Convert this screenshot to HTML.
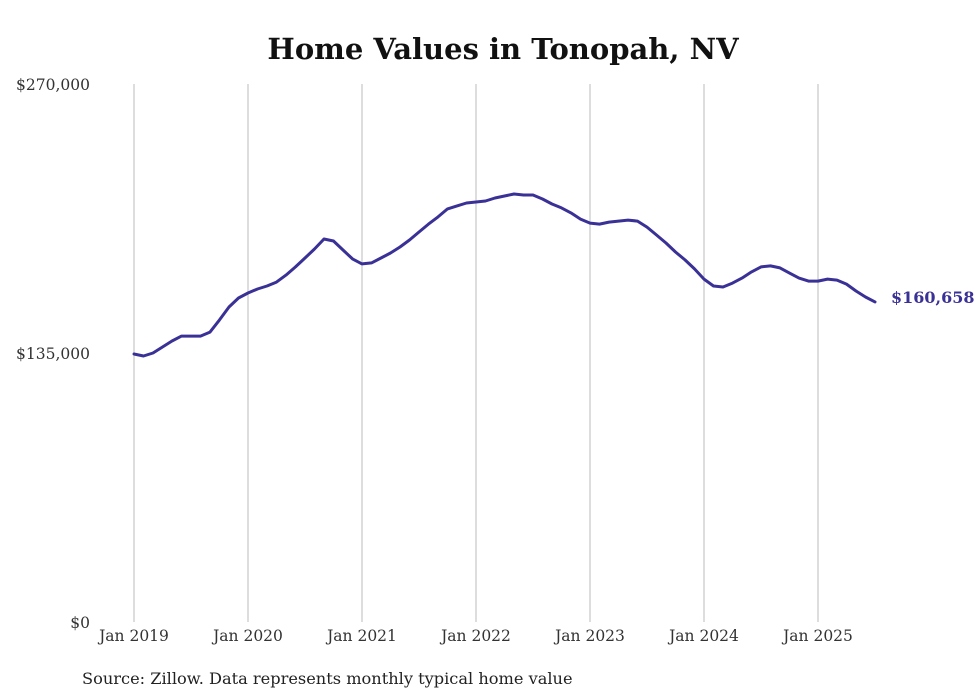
<!DOCTYPE html>
<html><head><meta charset="utf-8"><style>
body{margin:0;background:#fff;}
svg{display:block;font-family:"DejaVu Serif","Liberation Serif",serif;}
</style></head><body>
<svg id="chart" width="980" height="699">
<text x="503" y="59" text-anchor="middle" font-size="29" font-weight="bold" fill="#111">Home Values in Tonopah, NV</text>
<g id="grid"></g><g id="yaxis"></g><g id="xaxis"></g><g id="series"></g>
<text x="82" y="684" font-size="16.2" fill="#222">Source: Zillow. Data represents monthly typical home value</text>
</svg>
<script>
const yTicks=[0,135000,270000];
const yTickLabels=["$0","$135,000","$270,000"];
const xTickLabels=["Jan 2019","Jan 2020","Jan 2021","Jan 2022","Jan 2023","Jan 2024","Jan 2025"];
const xTickMonths=[0,12,24,36,48,60,72];
const values=[134.5,133.5,135.0,138.0,141.0,143.5,143.5,143.5,145.5,151.6,158.1,162.6,165.1,167.1,168.6,170.6,174.1,178.2,182.7,187.2,192.2,191.2,186.7,182.2,179.7,180.2,182.7,185.2,188.2,191.7,195.7,199.7,203.3,207.3,208.8,210.3,210.8,211.3,212.8,213.8,214.8,214.3,214.3,212.3,209.8,207.8,205.3,202.2,200.2,199.7,200.7,201.2,201.7,201.2,198.2,194.2,190.2,185.7,181.7,177.2,172.1,168.6,168.1,170.1,172.6,175.7,178.2,178.7,177.7,175.1,172.6,171.1,171.1,172.1,171.6,169.6,166.1,163.1,160.658];
const lastLabel="$160,658";
const NS="http://www.w3.org/2000/svg";
const xs=m=>134+m*9.5;
const ys=v=>622-v/270000*538;
function mk(tag,attrs,parent){const e=document.createElementNS(NS,tag);for(const k in attrs)e.setAttribute(k,attrs[k]);document.getElementById(parent).appendChild(e);return e;}
xTickMonths.forEach((m,i)=>{
  const l=mk('line',{x1:xs(m),x2:xs(m),y1:84,y2:622,stroke:'#bbb','stroke-width':1},'grid');
  
  
  const t=mk('text',{x:xs(m),y:641,'text-anchor':'middle','font-size':15.5,fill:'#333'},'xaxis');
  t.textContent=xTickLabels[i];
  
  
});
yTicks.forEach((v,i)=>{
  const t=mk('text',{x:90,y:ys(v)+6,'text-anchor':'end','font-size':15.5,fill:'#333'},'yaxis');
  t.textContent=yTickLabels[i];
  
  
});
const d=values.map((v,i)=>(i?'L':'M')+xs(i).toFixed(1)+','+ys(v*1000).toFixed(1)).join('');
const p=mk('path',{d:d,fill:'none',stroke:'#3a3196','stroke-width':3,'stroke-linejoin':'round','stroke-linecap':'round'},'series');


const li=values.length-1;
const t=mk('text',{x:xs(li)+16,y:ys(values[li]*1000)+1,'font-size':16,'font-weight':'bold',fill:'#3a3196'},'series');
t.textContent=lastLabel;


</script>
</body></html>
